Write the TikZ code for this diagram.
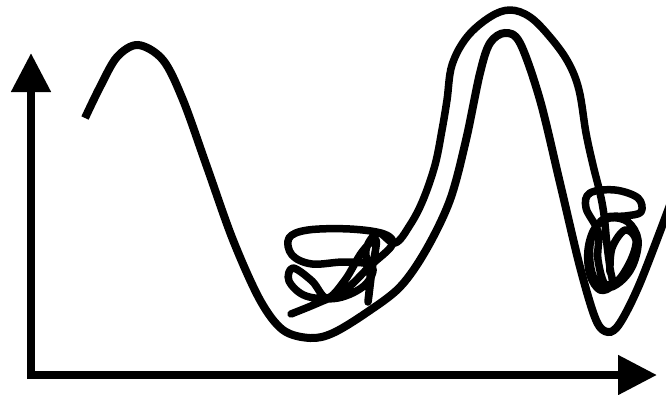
\documentclass[tikz,border=0pt]{standalone}
\usepackage{tikz}
\usetikzlibrary{arrows.meta}

\begin{document}
\begin{tikzpicture}[
  x=1pt, y=-1pt,
  axis/.style={line width=8pt, -{Triangle[length=39pt, width=38pt]}},
  pot/.style={line width=8pt},
  traj/.style={line width=7.5pt, line join=round, line cap=round}
]
  \clip (0,0) rectangle (666,394);
  % Achsen
  \coordinate (ybase) at (31,379);
  \coordinate (origin) at (31,375);
  \coordinate (ytop) at (31,53);
  \coordinate (xend) at (657,375);
  \draw[axis] (ybase) -- (ytop);
  \draw[axis] (origin) -- (xend);

  % Potentialkurve
  \draw[pot] plot[smooth, tension=0.55] coordinates {
    (85,118) (100,87) (117,57) (138,45) (163,60) (183,100) (207,167)
    (233,240) (260,300) (283,330) (310,338) (333,333) (366,313) (400,287)
    (426,250) (450,200) (466,140) (480,73) (490,43) (505,33) (520,43)
    (540,100) (560,183) (580,267) (596,320) (608,332) (620,323) (640,283)
    (670,205)};

  % Trajektorie: linke Mulde, ueber die Barriere, rechte Mulde
  \draw[traj] plot[smooth, tension=0.6] coordinates {
    (291,314) (318,303) (345,290) (370,266) (392,245) (384,234) (350,229)
    (308,230) (289,238) (292,255) (312,264) (345,262) (372,266) (365,285)
    (338,298) (306,296) (289,281) (293,268) (312,281) (327,298) (345,280)
    (362,252) (376,240) (372,270) (368,302) (370,275) (366,250) (378,233)
    (395,243) (410,225) (423,200) (435,165) (442,130) (447,100) (452,65)
    (467,37) (490,17) (510,10) (530,17) (550,37) (568,62) (579,90)
    (586,133) (593,165) (600,193) (604,215) (607,245) (610,268) (612,285)
    (600,290) (590,275) (588,250) (595,228) (610,218) (628,222) (638,240)
    (633,265) (620,282) (606,286) (598,260) (598,232) (586,208) (590,193)
    (615,190) (638,198) (641,212) (625,216) (605,218) (592,235) (590,262)
    (597,282) (615,283) (630,262) (636,240) (625,230) (612,248) (610,272)};
\end{tikzpicture}
\end{document}
